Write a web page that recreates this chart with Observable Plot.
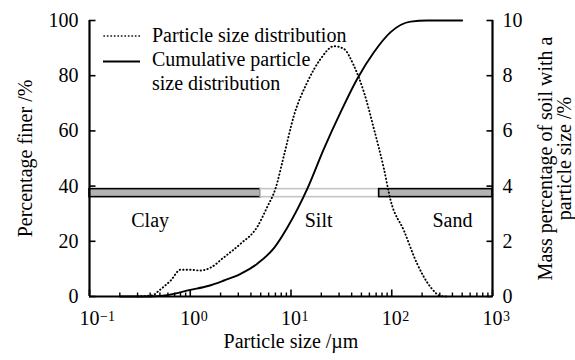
<!DOCTYPE html>
<html><head><meta charset="utf-8">
<script src="https://cdn.jsdelivr.net/npm/d3@7"></script>
<script src="https://cdn.jsdelivr.net/npm/@observablehq/plot@0.6"></script>
<style>
body{margin:0;background:#fff;font-family:'Liberation Serif';}
#wrap{position:relative;width:575px;height:360px;font-family:'Liberation Serif';}
#wrap svg.legend{position:absolute;left:0;top:0;pointer-events:none;}
</style></head><body><div id="wrap"></div>
<script>
// Cumulative particle size distribution (left axis, %)
const cumSize = [0.2, 0.4, 0.59, 1.0, 1.5, 2.16, 3.16, 4.6, 6.8, 9.2, 14.5, 21.2, 31.1, 45.5, 66.5, 97.5, 154, 226, 300, 500];
const cumPct  = [0,   0,   0.5,  2.4, 3.8, 5.8,  8.2,  11.8, 17.6, 25.0, 39.0, 53.5, 66.8, 78.9, 88.5, 95.8, 99.6, 100, 100, 100];
// Particle size distribution (right axis, %)
const distSize = [0.3, 0.43, 0.47, 0.64, 0.80, 1.0, 1.26, 1.58, 2.16, 3.16, 4.6, 5.8, 7.0, 8.5, 10.7, 14.5, 19.7, 26.7, 33.5, 42, 53, 66.5, 83.6, 97.5, 132, 179, 243, 305, 350];
const distPct  = [0,   0.05, 0.16, 0.58, 0.97, 0.97, 0.94, 1.04, 1.42, 1.91, 2.51, 3.24, 3.9, 5.1, 6.56, 7.76, 8.61, 9.07, 8.97, 8.37, 7.4, 6.08, 4.63, 3.48, 2.39, 1.18, 0.34, 0.02, 0];
// Soil classes (band)
const classNames = ["Clay", "Silt", "Sand"];
const classFrom  = [0.1, 5, 75];
const classTo    = [5, 75, 1000];
const classLabelX = [0.4, 18.8, 400];
const classLabelY = [27.5, 27.5, 27.5];
const bandLow = 36, bandHigh = 38.9;
// Ticks
const xTicks = [0.1, 1, 10, 100, 1000];
const xExponents = ["\u22121", "0", "1", "2", "3"];
const xMinorTicks = [0.2,0.3,0.4,0.5,0.6,0.7,0.8,0.9, 2,3,4,5,6,7,8,9, 20,30,40,50,60,70,80,90, 200,300,400,500,600,700,800,900];
const yTicksLeft = [0, 20, 40, 60, 80, 100];
const yTicksRight = [0, 2, 4, 6, 8, 10];
const rightFactor = 10;
// Texts
const xLabel = "Particle size /\u00b5m";
const yLabelLeft = "Percentage finer /%";
const yLabelRight = "Mass percentage of soil with a\nparticle size /%";
const legendLabels = ["Particle size distribution", "Cumulative particle", "size distribution"];

const FONT = "Liberation Serif";
const DOTS = "0.4,3.1";
const cum = cumSize.map((s, i) => ({s, v: cumPct[i]}));
const dist = distSize.map((s, i) => ({s, v: distPct[i] * rightFactor}));
const classes = classNames.map((n, i) => ({n, x1: classFrom[i], x2: classTo[i], lx: classLabelX[i], ly: classLabelY[i], sand: n !== "Silt"}));

const chart = Plot.plot({
  width: 575, height: 360,
  marginLeft: 89, marginRight: 83, marginTop: 20, marginBottom: 64,
  style: {fontSize: "20px", background: "#fff", color: "#000"},
  x: {type: "log", domain: [0.1, 1000]},
  y: {domain: [0, 100]},
  marks: [
    Plot.rect(classes, {x1: "x1", x2: "x2", y1: bandLow, y2: bandHigh,
      fill: d => d.sand ? "#b3b3b3" : "#ffffff",
      stroke: d => d.sand ? "#000" : "#c4c4c4", strokeWidth: 1.6}),
    Plot.text(classes, {x: "lx", y: "ly", text: "n", fontSize: 20, fill: "#000"}),
    Plot.line(dist, {x: "s", y: "v", stroke: "#000", strokeWidth: 1.9, strokeDasharray: DOTS, strokeLinecap: "round", curve: "monotone-x"}),
    Plot.line(cum, {x: "s", y: "v", stroke: "#000", strokeWidth: 1.9, curve: "monotone-x"}),
    Plot.axisX(xMinorTicks, {tickSize: -3.5, tickFormat: () => "", strokeWidth: 1.4, label: null}),
    Plot.axisX(xTicks, {tickSize: -6.5, tickPadding: 21, tickFormat: () => "10", fontSize: 20, strokeWidth: 1.6, label: null}),
    Plot.text(xTicks, {x: d => d, text: (d, i) => xExponents[i], frameAnchor: "bottom", textAnchor: "start", lineAnchor: "top", dx: 10.5, dy: 14.5, fontSize: 14}),
    Plot.axisY(yTicksLeft, {anchor: "left", tickSize: -6.5, tickPadding: 17.5, fontSize: 20, strokeWidth: 1.6, label: null}),
    Plot.axisY(yTicksRight.map(v => v * rightFactor), {anchor: "right", tickSize: -6.5, tickPadding: 16.5, tickFormat: d => d / rightFactor, fontSize: 20, strokeWidth: 1.6, label: null}),
    Plot.ruleY([0], {stroke: "#000", strokeWidth: 2.2}),
    Plot.ruleX([0.1, 1000], {stroke: "#000", strokeWidth: 2.2}),
    Plot.text([xLabel], {frameAnchor: "bottom", textAnchor: "middle", dy: 51, fontSize: 20}),
    Plot.text([yLabelLeft], {frameAnchor: "left", textAnchor: "middle", dx: -64, rotate: -90, fontSize: 20}),
    Plot.text([yLabelRight], {frameAnchor: "right", textAnchor: "middle", dx: 62.5, rotate: -90, fontSize: 20, lineHeight: 0.95})
  ]
});
const wrap = document.getElementById("wrap");
wrap.appendChild(chart);

// Legend overlay
const lg = d3.select(wrap).append("svg").attr("class", "legend").attr("width", 575).attr("height", 360)
  .style("font-size", "20px");
lg.append("line").attr("x1", 104).attr("x2", 142).attr("y1", 36).attr("y2", 36)
  .attr("stroke", "#000").attr("stroke-width", 1.6).attr("stroke-dasharray", DOTS).attr("stroke-linecap", "round");
lg.append("line").attr("x1", 103).attr("x2", 140).attr("y1", 61.5).attr("y2", 61.5)
  .attr("stroke", "#000").attr("stroke-width", 1.9);
lg.append("text").attr("x", 152).attr("y", 42).text(legendLabels[0]);
lg.append("text").attr("x", 152).attr("y", 66).text(legendLabels[1]);
lg.append("text").attr("x", 152).attr("y", 89.5).text(legendLabels[2]);

// Serif font on every text element
d3.select(wrap).selectAll("svg, svg g, svg text, svg tspan")
  .attr("font-family", FONT).style("font-family", FONT);
</script></body></html>
